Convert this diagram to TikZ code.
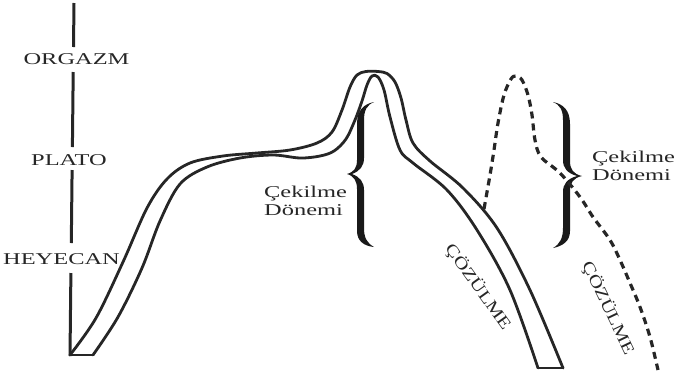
\documentclass[tikz,border=0pt]{standalone}
\usepackage{fontspec}
\setmainfont{Liberation Serif}
\newcommand{\hs}[1]{\scalebox{1.48}[1]{#1}}
\newcommand{\rs}[1]{\scalebox{1.27}[1]{#1}}
\tikzset{
  band/.style={line width=2.8pt, line cap=round, line join=round, black!85},
  axisline/.style={line width=3pt, black!85},
  dashline/.style={line width=3.2pt, black!85, dash pattern=on 7pt off 5pt},
  lbl/.style={inner sep=0pt, font=\fontsize{16.5}{18.5}\selectfont, text=black!85},
  bracefill/.style={fill=black!90, draw=none}
}
\begin{document}
\begin{tikzpicture}[x=1pt,y=-1pt]
\useasboundingbox (0,0) rectangle (677,376);
% axis segments
\draw[axisline] (74,3) -- (73.5,47);
\draw[axisline] (73.2,72) -- (72.4,147);
\draw[axisline] (72.1,170) -- (71.3,243);
\draw[axisline] (70.9,273) -- (70,356);
% axis labels
\node[lbl] (orgazm) at (76.5,59) {\hs{ORGAZM}};
\node[lbl] (plato) at (69,160) {\hs{PLATO}};
\node[lbl] (heyecan) at (61.5,259) {\hs{HEYECAN}};
% outer edge of ribbon
\draw[band] plot[smooth, tension=0.55] coordinates {
 (70,355) (96,318) (123,262) (147,208) (167,179) (190,163) (223,156)
 (257,153) (290,150) (317,143) (332,132) (342,110) (350,87) (357,75)
 (366,71.5) (378,71.5) (387,73.5) (395,82) (401,98) (406,120) (413,143) (430,161)
 (463,188) (497,228) (530,290) (563,368)};
% inner edge of ribbon
\draw[band] plot[smooth, tension=0.55] coordinates {
 (93,355) (118,317) (142,268) (160,221) (180,184) (207,167) (240,158)
 (273,155) (300,158) (320,156) (334,151) (346,139) (355,120) (362,101)
 (367,85) (372,76) (378,77) (384,90) (390,117) (400,150) (413,163)
 (447,190) (477,230) (510,290) (538,368)};
% ribbon ends
\draw[band] (70,355) -- (93,355);
\draw[band] (538,368) -- (563,368);
% left brace
\fill[bracefill] (374,102) .. controls (364,104) and (357,110) .. (357,124)
 -- (357,160) .. controls (357,168) and (354,172) .. (347,174)
 .. controls (354,176) and (357,181) .. (357,189)
 -- (357,231) .. controls (357,241) and (364,246) .. (374,247)
 .. controls (367,243) and (364,238) .. (364,228)
 -- (364,190) .. controls (364,182) and (360,177) .. (352,174)
 .. controls (360,171) and (364,166) .. (364,158)
 -- (364,120) .. controls (364,110) and (367,105) .. (374,102) -- cycle;
% right brace
\fill[bracefill] (553,102) .. controls (563,104) and (570,110) .. (570,124)
 -- (570,161) .. controls (570,169) and (573,174) .. (582,176)
 .. controls (573,178) and (570,183) .. (570,191)
 -- (570,231) .. controls (570,241) and (563,246) .. (553,248)
 .. controls (560,244) and (563,238) .. (563,228)
 -- (563,192) .. controls (563,184) and (567,179) .. (577,176)
 .. controls (567,173) and (563,168) .. (563,160)
 -- (563,120) .. controls (563,110) and (560,105) .. (553,102) -- cycle;
% dashed curve
\draw[dashline] plot[smooth, tension=0.55] coordinates {
 (484,209) (490,175) (494,150) (498,123) (504,95) (511,79) (516,76)
 (522,80) (528,95) (532,115) (535,140) (541,157) (560,173) (580,197)
 (593,217) (610,240) (620,260) (630,283) (640,307) (650,337) (658,370)};
% labels
\node[lbl, anchor=west, align=left] (ceka) at (264,201) {\hs{Çekilme}\\\hs{Dönemi}};
\node[lbl, anchor=west, align=left] (cekb) at (592,166) {\hs{Çekilme}\\\hs{Dönemi}};
\node[lbl, rotate=-54.5] (coza) at (478,287) {\rs{ÇÖZÜLME}};
\node[lbl, rotate=-64.5] (cozb) at (608,308) {\rs{ÇÖZÜLME}};
\end{tikzpicture}
\end{document}
